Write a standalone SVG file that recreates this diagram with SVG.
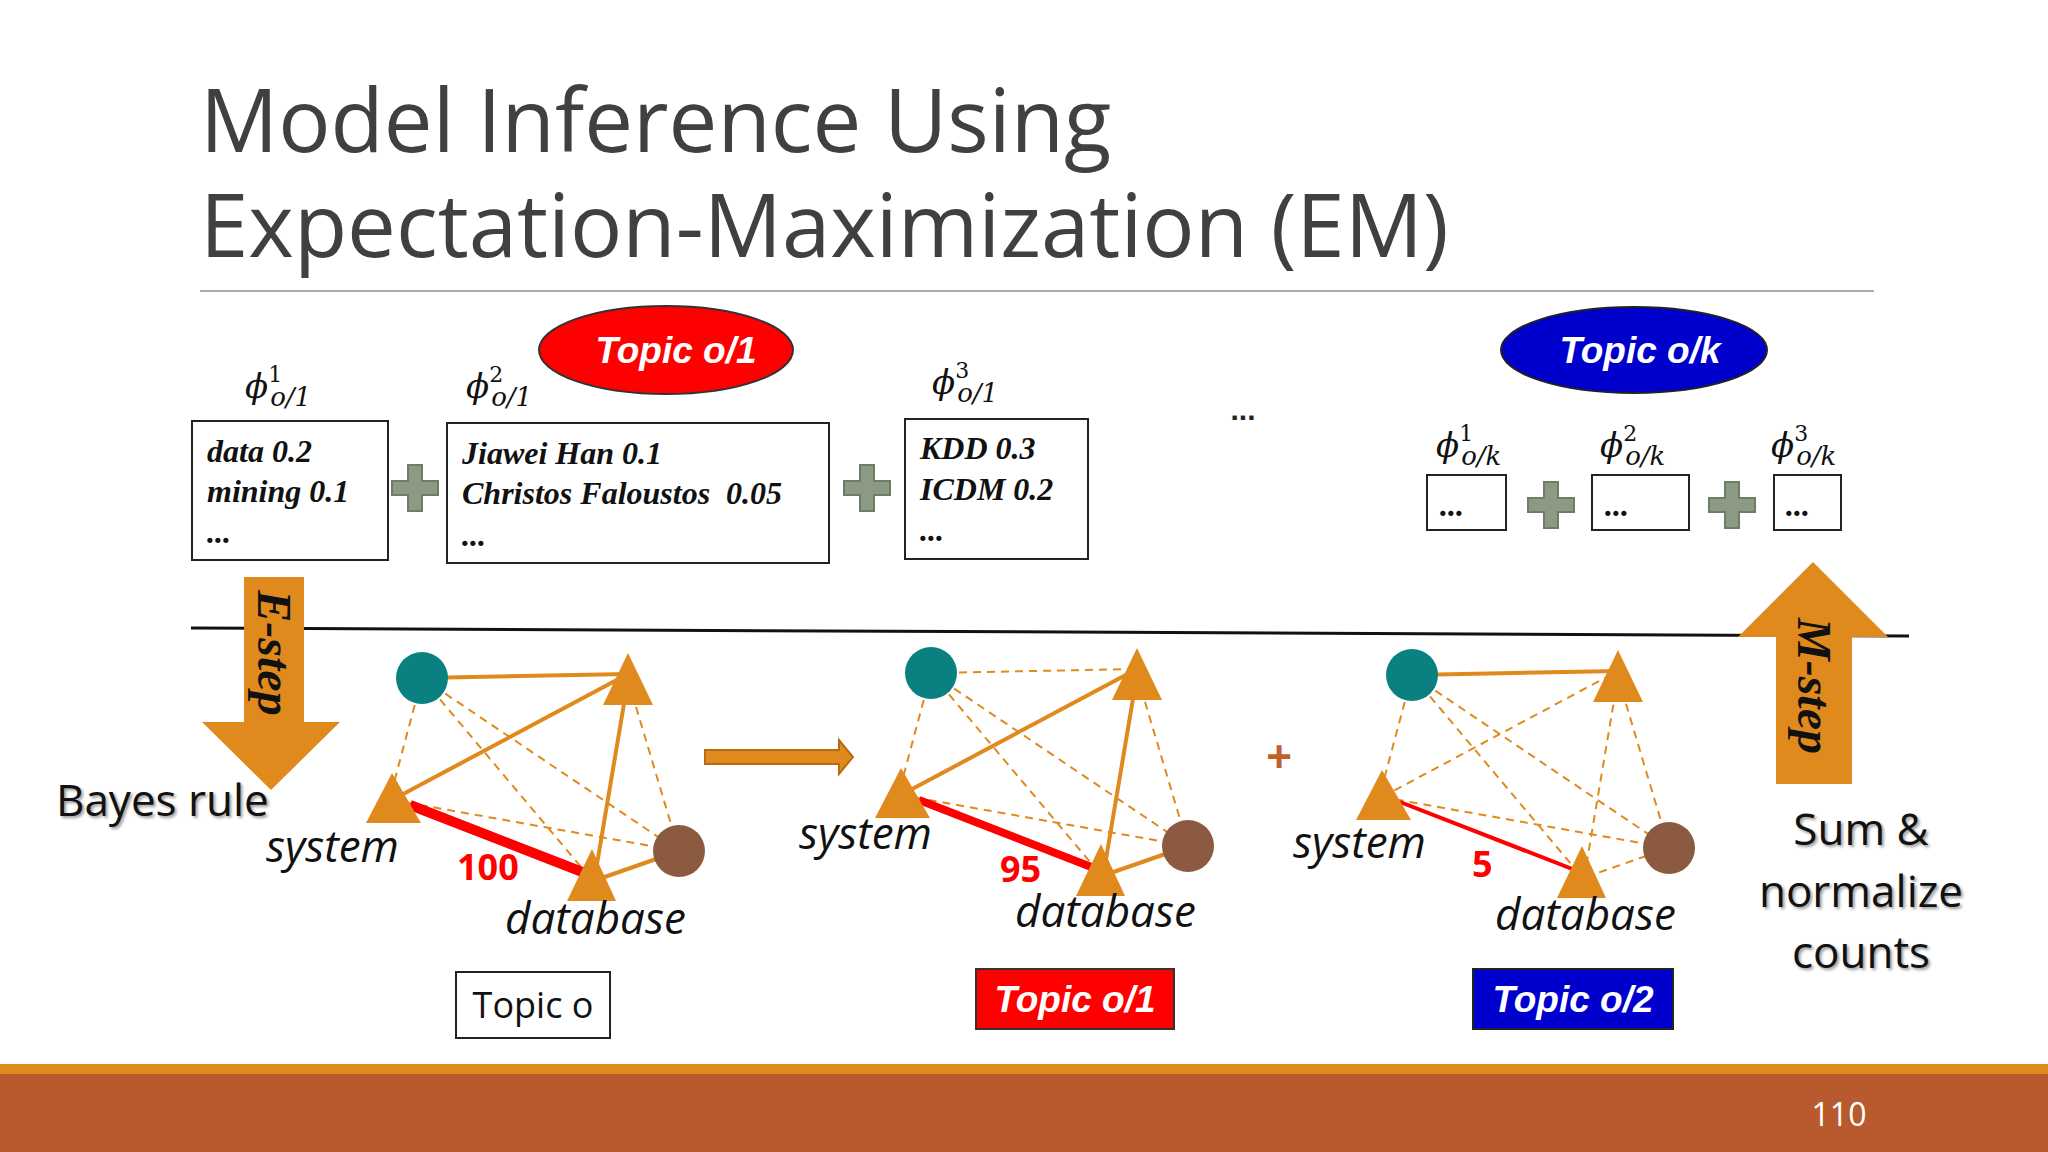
<svg xmlns="http://www.w3.org/2000/svg" width="2048" height="1152" viewBox="0 0 2048 1152">
<defs>
<style>
.title{font-family:"Open Sans","Liberation Sans",sans-serif;font-size:87px;fill:#404040}
.box{fill:#fff;stroke:#222;stroke-width:2}
.bt{font-family:"Liberation Serif",serif;font-style:italic;font-weight:bold;font-size:32px;fill:#111}
.phi{font-family:"DejaVu Serif","Liberation Serif",serif;font-style:italic;fill:#111}
.pl{fill:#8c9a84;stroke:#6f7d68;stroke-width:2}
.tw{font-family:"Liberation Sans",sans-serif;font-style:italic;font-weight:bold;font-size:37px;fill:#fff}
.lab{font-family:"Open Sans","Liberation Sans",sans-serif;font-size:44px;fill:#111}
.it{font-style:italic}
.num{font-family:"Open Sans","Liberation Sans",sans-serif;font-weight:bold;font-size:36px;fill:#f00}
.s{stroke:#e08a1e;stroke-width:4;fill:none}
.d{stroke:#e08a1e;stroke-width:2;stroke-dasharray:8 6;fill:none}
.tri{fill:#e08a1e}
.step{font-family:"Liberation Serif",serif;font-style:italic;font-weight:bold;font-size:48px;fill:#111}
</style>
<g id="graph">
<line class="d" x1="422" y1="678" x2="392" y2="790"/>
<line class="d" x1="422" y1="678" x2="592" y2="880"/>
<line class="d" x1="422" y1="678" x2="679" y2="851"/>
<line class="d" x1="628" y1="680" x2="679" y2="851"/>
<line class="d" x1="392" y1="800" x2="679" y2="851"/>
</g>
</defs>
<rect width="2048" height="1152" fill="#fff"/>
<text class="title" x="200" y="152">Model Inference Using</text>
<text class="title" x="200" y="257">Expectation-Maximization (EM)</text>
<line x1="200" y1="291" x2="1874" y2="291" stroke="#aaa" stroke-width="2"/>

<g id="topic-o1-ellipse"><ellipse cx="666" cy="350" rx="127" ry="44" fill="#f00" stroke="#333" stroke-width="2"/><text class="tw" x="676" y="363" text-anchor="middle">Topic o/1</text></g>
<g id="topic-ok-ellipse"><ellipse cx="1634" cy="350" rx="133" ry="43" fill="#0000cc" stroke="#222" stroke-width="2"/><text class="tw" x="1640" y="363" text-anchor="middle">Topic o/k</text></g>

<g id="phi-labels">
<text class="phi" x="245" y="398" font-size="34">ϕ<tspan font-size="22" dy="-16" dx="0" font-style="normal">1</tspan><tspan font-size="26" dy="24" dx="-12">o/1</tspan></text>
<text class="phi" x="466" y="398" font-size="34">ϕ<tspan font-size="22" dy="-16" dx="0" font-style="normal">2</tspan><tspan font-size="26" dy="24" dx="-12">o/1</tspan></text>
<text class="phi" x="932" y="394" font-size="34">ϕ<tspan font-size="22" dy="-16" dx="0" font-style="normal">3</tspan><tspan font-size="26" dy="24" dx="-12">o/1</tspan></text>
<text class="phi" x="1436" y="457" font-size="34">ϕ<tspan font-size="22" dy="-16" dx="0" font-style="normal">1</tspan><tspan font-size="26" dy="24" dx="-12">o/k</tspan></text>
<text class="phi" x="1600" y="457" font-size="34">ϕ<tspan font-size="22" dy="-16" dx="0" font-style="normal">2</tspan><tspan font-size="26" dy="24" dx="-12">o/k</tspan></text>
<text class="phi" x="1771" y="457" font-size="34">ϕ<tspan font-size="22" dy="-16" dx="0" font-style="normal">3</tspan><tspan font-size="26" dy="24" dx="-12">o/k</tspan></text>
</g>

<g id="box1"><rect class="box" x="192" y="421" width="196" height="139"/><text class="bt" x="207" y="462">data 0.2</text><text class="bt" x="207" y="502">mining 0.1</text><text class="bt" x="207" y="543">...</text></g>
<g id="box2"><rect class="box" x="447" y="423" width="382" height="140"/><text class="bt" x="462" y="464">Jiawei Han 0.1</text><text class="bt" x="462" y="504" xml:space="preserve">Christos Faloustos  0.05</text><text class="bt" x="462" y="546">...</text></g>
<g id="box3"><rect class="box" x="905" y="419" width="183" height="140"/><text class="bt" x="920" y="459">KDD 0.3</text><text class="bt" x="920" y="500">ICDM 0.2</text><text class="bt" x="920" y="541">...</text></g>
<g id="boxk1"><rect class="box" x="1427" y="475" width="79" height="55"/><text class="bt" x="1440" y="516" font-size="26">...</text></g>
<g id="boxk2"><rect class="box" x="1592" y="475" width="97" height="55"/><text class="bt" x="1605" y="516" font-size="26">...</text></g>
<g id="boxk3"><rect class="box" x="1774" y="475" width="67" height="55"/><text class="bt" x="1786" y="516" font-size="26">...</text></g>
<text x="1243" y="420" font-family="Liberation Sans,sans-serif" font-size="30" font-weight="bold" text-anchor="middle" fill="#222">...</text>

<g id="pluses">
<path class="pl" d="M408,465h14v16h16v14h-16v16h-14v-16h-16v-14h16z"/>
<path class="pl" d="M860,465h14v16h16v14h-16v16h-14v-16h-16v-14h16z"/>
<path class="pl" d="M1544,482h14v16h16v14h-16v16h-14v-16h-16v-14h16z"/>
<path class="pl" d="M1725,482h14v16h16v14h-16v16h-14v-16h-16v-14h16z"/>
</g>

<line x1="191" y1="628" x2="1909" y2="636" stroke="#111" stroke-width="3"/>

<g id="e-step"><path d="M244,577h60v145h36l-69,68l-69,-68h42z" fill="#e08a1e"/><text class="step" transform="translate(258,653) rotate(90)" text-anchor="middle">E-step</text></g>
<text x="56" y="816" font-family="Open Sans,Liberation Sans,sans-serif" font-size="44" fill="#111" style="text-shadow:2px 2px 3px #999">Bayes rule</text>

<g id="m-step"><path d="M1776,784v-147h-38l75,-75l75,75h-36v147z" fill="#e08a1e"/><text class="step" transform="translate(1798,686) rotate(90)" text-anchor="middle">M-step</text></g>
<g id="sum-label" font-family="Open Sans,Liberation Sans,sans-serif" font-size="44" fill="#111" text-anchor="middle" style="text-shadow:2px 2px 3px #999"><text x="1861" y="845">Sum &amp;</text><text x="1861" y="907">normalize</text><text x="1861" y="968">counts</text></g>

<g id="connectors">
<use href="#graph"/>
<line class="s" x1="422" y1="678" x2="628" y2="674"/>
<line class="s" x1="392" y1="800" x2="628" y2="674"/>
<line class="s" x1="628" y1="680" x2="596" y2="870"/>
<line class="s" x1="596" y1="880" x2="679" y2="851" stroke-width="6"/>
<line x1="410" y1="805" x2="590" y2="875" stroke="#f00" stroke-width="10"/>
<use href="#graph" transform="translate(509,-5)"/>
<line class="d" x1="931" y1="673" x2="1137" y2="669"/>
<line class="s" x1="901" y1="795" x2="1137" y2="669"/>
<line class="s" x1="1137" y1="675" x2="1105" y2="865"/>
<line class="s" x1="1105" y1="875" x2="1188" y2="846" stroke-width="6"/>
<line x1="919" y1="800" x2="1099" y2="870" stroke="#f00" stroke-width="8"/>
<use href="#graph" transform="translate(990,-3)"/>
<line class="s" x1="1412" y1="675" x2="1618" y2="671"/>
<line class="d" x1="1382" y1="797" x2="1618" y2="671"/>
<line class="d" x1="1618" y1="677" x2="1586" y2="867"/>
<line class="d" x1="1586" y1="877" x2="1669" y2="848"/>
<line x1="1400" y1="802" x2="1580" y2="872" stroke="#f00" stroke-width="4"/>
<path d="M705,750h134v-10l14,17l-14,17v-10h-134z" fill="#e08a1e" stroke="#b86a10" stroke-width="2"/>
</g>

<g id="nodes-g1">
<circle cx="422" cy="678" r="26" fill="#0a8080"/>
<polygon class="tri" points="628,653 653,705 603,705"/>
<polygon class="tri" points="392,773 421,823 366,823"/>
<polygon class="tri" points="592,849 616,901 567,901"/>
<circle cx="679" cy="851" r="26" fill="#8b5a40"/>
<text class="lab it" x="266" y="862">system</text><text class="num" x="457" y="880">100</text><text class="lab it" x="505" y="934">database</text>
</g>
<g id="nodes-g2" transform="translate(509,-5)">
<circle cx="422" cy="678" r="26" fill="#0a8080"/>
<polygon class="tri" points="628,653 653,705 603,705"/>
<polygon class="tri" points="392,773 421,823 366,823"/>
<polygon class="tri" points="592,849 616,901 567,901"/>
<circle cx="679" cy="851" r="26" fill="#8b5a40"/>
</g>
<g id="labels-g2"><text class="lab it" x="799" y="849">system</text><text class="num" x="1000" y="882">95</text><text class="lab it" x="1015" y="927">database</text></g>
<text x="1279" y="772" font-family="Liberation Sans,sans-serif" font-size="44" font-weight="bold" fill="#c0602a" text-anchor="middle">+</text>
<g id="nodes-g3" transform="translate(990,-3)">
<circle cx="422" cy="678" r="26" fill="#0a8080"/>
<polygon class="tri" points="628,653 653,705 603,705"/>
<polygon class="tri" points="392,773 421,823 366,823"/>
<polygon class="tri" points="592,849 616,901 567,901"/>
<circle cx="679" cy="851" r="26" fill="#8b5a40"/>
</g>
<g id="labels-g3"><text class="lab it" x="1293" y="858">system</text><text class="num" x="1472" y="877">5</text><text class="lab it" x="1495" y="930">database</text></g>

<g id="topic-o"><rect class="box" x="456" y="972" width="154" height="66"/><text x="533" y="1018" font-family="Open Sans,Liberation Sans,sans-serif" font-size="36" fill="#111" text-anchor="middle">Topic o</text></g>
<g id="topic-o1-box"><rect x="976" y="969" width="198" height="60" fill="#f00" stroke="#333" stroke-width="2"/><text class="tw" x="1075" y="1012" text-anchor="middle">Topic o/1</text></g>
<g id="topic-o2-box"><rect x="1473" y="969" width="200" height="60" fill="#0000cc" stroke="#222" stroke-width="2"/><text class="tw" x="1573" y="1012" text-anchor="middle">Topic o/2</text></g>

<rect x="0" y="1064" width="2048" height="10" fill="#e08a1e"/>
<rect x="0" y="1074" width="2048" height="78" fill="#b85a2e"/>
<text x="1839" y="1126" font-family="Open Sans,Liberation Sans,sans-serif" font-size="32" fill="#fff" text-anchor="middle">110</text>
</svg>
